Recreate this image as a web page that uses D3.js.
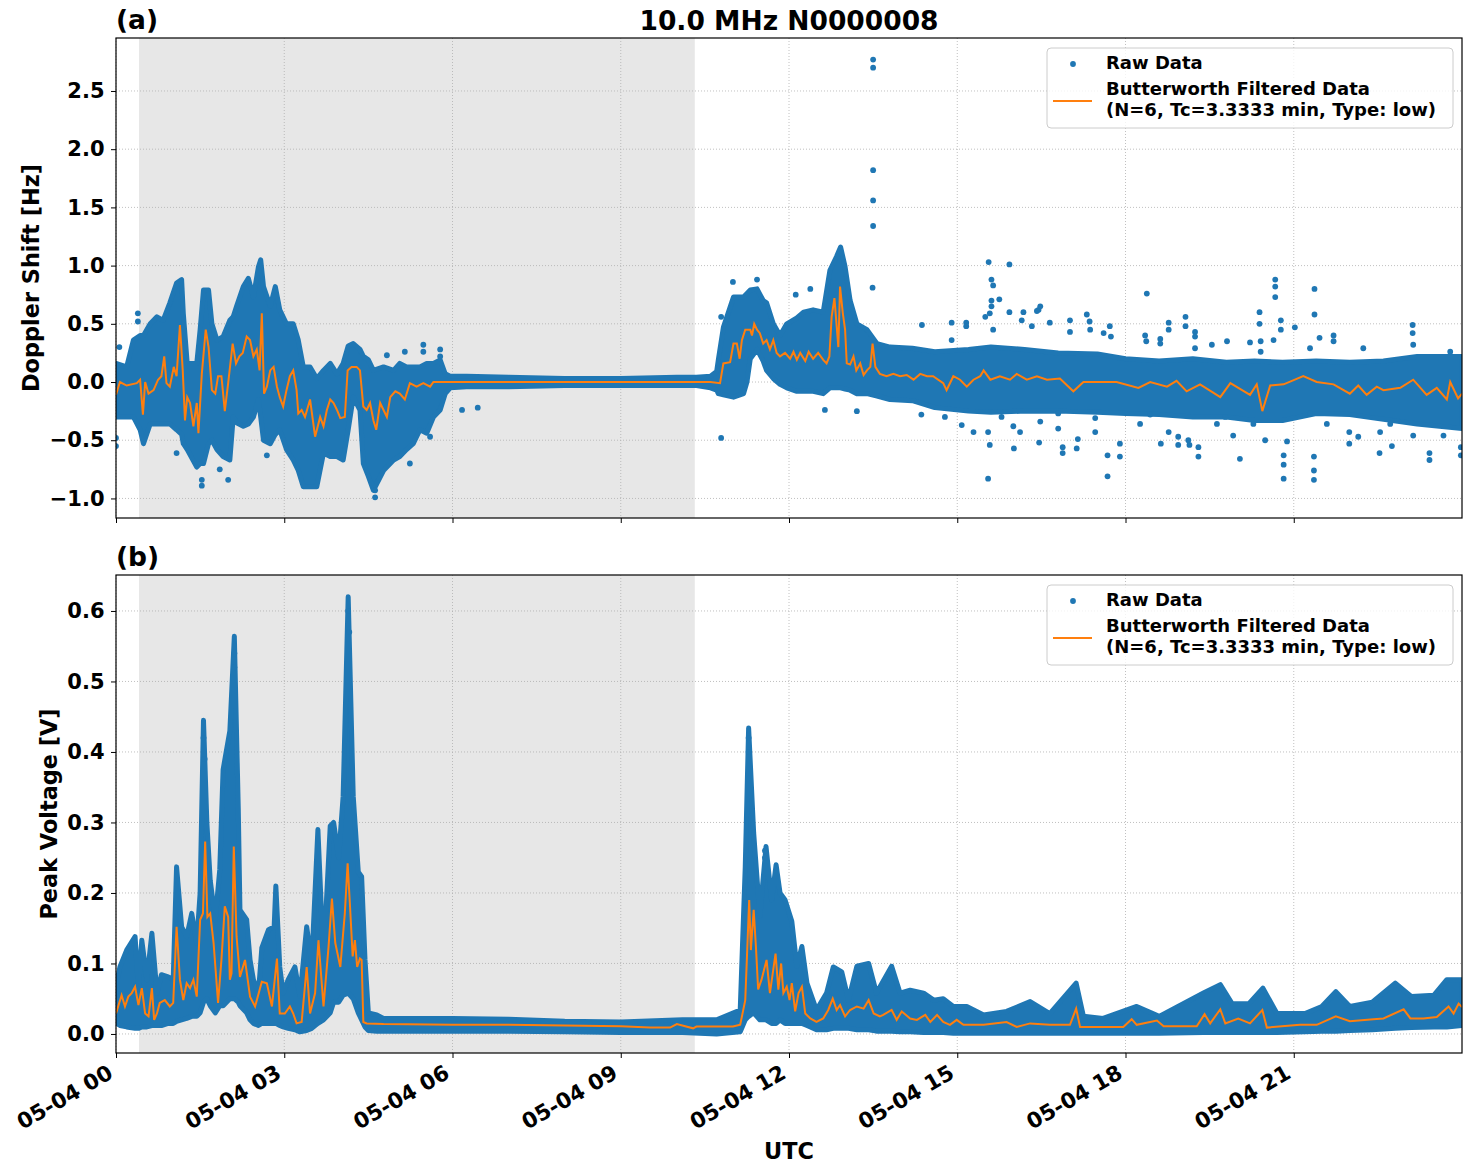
<!DOCTYPE html>
<html>
<head>
  <title>10.0 MHz N0000008</title>
  <script src="https://cdn.jsdelivr.net/npm/d3@7"></script>
  <style>
    body { margin: 0; background: #fff; }
    text { font-family: "DejaVu Sans", sans-serif; font-weight: bold; }
  </style>
</head>
<body>
<script>
  // Tid i timer efter 05-04 00 UTC
  const hourTicks = [0, 3, 6, 9, 12, 15, 18, 21];
  const hourLabels = ["05-04 00", "05-04 03", "05-04 06", "05-04 09", "05-04 12", "05-04 15", "05-04 18", "05-04 21"];
  const nightStart = 0.41;
  const nightEnd = 10.32;

  // (a) Doppler - rå data som øvre/nedre kant af punktskyen
  const dopEnvTime = [0.0, 0.19, 0.31, 0.43, 0.49, 0.61, 0.73, 0.84, 0.96, 1.08, 1.17, 1.20, 1.27, 1.44, 1.50, 1.56, 1.65, 1.71, 1.80, 1.91,
    2.03, 2.09, 2.15, 2.27, 2.36, 2.45, 2.54, 2.58, 2.63, 2.75, 2.84, 2.92, 3.04, 3.16, 3.25, 3.34, 3.46, 3.58, 3.70, 3.82,
    3.94, 4.05, 4.14, 4.23, 4.35, 4.41, 4.50, 4.59, 4.77, 4.95, 5.06, 5.18, 5.30, 5.42, 5.54, 5.66, 5.78, 5.87, 5.96, 6.25,
    7.0, 8.0, 9.0, 10.0, 10.35, 10.6, 10.71, 10.74, 10.83, 11.01, 11.19, 11.25, 11.31, 11.43, 11.54, 11.60, 11.72, 11.84, 11.96, 12.14,
    12.26, 12.43, 12.61, 12.73, 12.85, 12.92, 13.00, 13.09, 13.21, 13.39, 13.57, 13.8, 14.2, 14.6, 15.2, 15.6, 16.2, 16.8, 17.5, 18.0,
    18.6, 19.2, 19.8, 20.3, 20.8, 21.4, 22.0, 22.6, 23.2, 23.6, 24.0];
  const dopEnvHigh = [0.16, 0.13, 0.36, 0.40, 0.40, 0.50, 0.56, 0.53, 0.68, 0.85, 0.88, 0.59, 0.16, 0.16, 0.45, 0.79, 0.79, 0.50, 0.36, 0.39,
    0.53, 0.56, 0.65, 0.82, 0.89, 0.73, 0.99, 1.05, 0.82, 0.65, 0.82, 0.62, 0.50, 0.50, 0.36, 0.13, 0.13, 0.03, 0.10, 0.16,
    0.07, 0.16, 0.31, 0.33, 0.28, 0.22, 0.19, 0.10, 0.13, 0.10, 0.16, 0.13, 0.13, 0.13, 0.16, 0.16, 0.19, 0.07, 0.05, 0.05,
    0.04, 0.03, 0.03, 0.04, 0.04, 0.05, 0.09, 0.19, 0.47, 0.73, 0.73, 0.76, 0.79, 0.80, 0.70, 0.68, 0.50, 0.40, 0.50, 0.55,
    0.60, 0.62, 0.60, 0.96, 1.08, 1.16, 0.99, 0.70, 0.50, 0.45, 0.33, 0.30, 0.29, 0.26, 0.28, 0.30, 0.28, 0.25, 0.24, 0.20,
    0.18, 0.20, 0.17, 0.18, 0.17, 0.18, 0.17, 0.18, 0.22, 0.22, 0.22];
  const dopEnvLow = [-0.30, -0.30, -0.30, -0.41, -0.53, -0.36, -0.36, -0.36, -0.36, -0.41, -0.45, -0.53, -0.58, -0.73, -0.70, -0.70, -0.53, -0.50, -0.58, -0.64,
    -0.67, -0.30, -0.35, -0.38, -0.36, -0.30, -0.15, -0.30, -0.50, -0.53, -0.45, -0.41, -0.58, -0.67, -0.76, -0.90, -0.90, -0.90, -0.61, -0.64,
    -0.64, -0.67, -0.41, -0.13, -0.24, -0.70, -0.81, -0.93, -0.76, -0.67, -0.64, -0.58, -0.53, -0.41, -0.44, -0.30, -0.24, -0.10, -0.05, -0.04,
    -0.04, -0.03, -0.03, -0.03, -0.03, -0.05, -0.07, -0.10, -0.11, -0.13, -0.10, 0.00, 0.20, 0.28, 0.18, 0.10, 0.03, -0.02, -0.05, -0.08,
    -0.08, -0.08, -0.10, -0.05, -0.05, -0.05, -0.06, -0.07, -0.10, -0.10, -0.12, -0.15, -0.16, -0.22, -0.25, -0.26, -0.25, -0.25, -0.26, -0.27,
    -0.28, -0.30, -0.30, -0.33, -0.33, -0.27, -0.28, -0.32, -0.36, -0.38, -0.40];
  // (a) enkeltpunkter uden for den tætte sky: [time, Hz]
  const dopOutliers = [
    [0.06, 0.30], [0.39, 0.59], [0.39, 0.52], [1.08, -0.61], [1.53, -0.84], [1.53, -0.89], [1.85, -0.75], [2.0, -0.84], [2.69, -0.63],
    [4.62, -0.99], [4.62, -0.93], [4.83, 0.23], [5.15, 0.26], [5.48, 0.32], [5.48, 0.26], [5.78, 0.28], [5.78, 0.22], [6.17, -0.24],
    [6.45, -0.22], [5.24, -0.70], [5.6, -0.47], [0.0, -0.55], [0.0, -0.48], [10.79, 0.56], [10.79, -0.48], [11.0, 0.86], [11.43, 0.88],
    [12.12, 0.75], [12.38, 0.80], [13.50, 2.77], [13.50, 2.70], [13.50, 1.82], [13.50, 1.56], [13.50, 1.34], [13.49, 0.81], [14.37, 0.49],
    [12.64, -0.24], [13.21, -0.25], [14.36, -0.28], [15.56, 1.03], [15.93, 1.01],
    [14.90, 0.51], [15.16, 0.51], [15.16, 0.48], [14.90, 0.36], [15.50, 0.56], [15.61, 0.88], [15.64, 0.83], [15.61, 0.70], [15.61, 0.65],
    [15.58, 0.59], [15.64, 0.45], [15.75, 0.71], [15.93, 0.60], [16.18, 0.60], [16.15, 0.53], [16.45, 0.62], [16.48, 0.65], [16.42, 0.61],
    [16.65, 0.51], [16.33, 0.48], [17.01, 0.53], [17.01, 0.43], [17.31, 0.58], [17.36, 0.52], [17.37, 0.45], [17.61, 0.42], [17.72, 0.48],
    [17.74, 0.39], [18.38, 0.76], [18.35, 0.40], [18.37, 0.35], [18.62, 0.37], [18.62, 0.33], [18.77, 0.51], [18.77, 0.45], [19.07, 0.56],
    [19.07, 0.48], [19.24, 0.43], [19.24, 0.39], [19.24, 0.29], [19.54, 0.32], [19.81, 0.35], [20.22, 0.34], [20.39, 0.60], [20.39, 0.50],
    [20.41, 0.35], [20.41, 0.26], [20.67, 0.88], [20.67, 0.82], [20.67, 0.73], [20.77, 0.53], [20.77, 0.45], [21.02, 0.47], [21.37, 0.80],
    [21.37, 0.58], [21.46, 0.38], [21.71, 0.40], [21.71, 0.35], [22.24, 0.29], [23.12, 0.49], [23.12, 0.42], [23.13, 0.32], [23.79, 0.26],
    [20.64, 0.36], [21.29, 0.29],
    [14.78, -0.30], [15.08, -0.37], [15.29, -0.43], [15.55, -0.43], [15.58, -0.54], [15.55, -0.83], [15.79, -0.30], [16.00, -0.38],
    [16.01, -0.57], [16.12, -0.43], [16.46, -0.52], [16.48, -0.34], [16.80, -0.40], [16.80, -0.27], [16.88, -0.56], [16.88, -0.61],
    [17.13, -0.57], [17.15, -0.49], [17.46, -0.43], [17.46, -0.31], [17.68, -0.63], [17.68, -0.81], [17.90, -0.53], [17.90, -0.64],
    [18.26, -0.36], [18.44, -0.28], [18.63, -0.53], [18.77, -0.43], [18.94, -0.47], [18.94, -0.54], [19.12, -0.50], [19.14, -0.54],
    [19.30, -0.56], [19.30, -0.64], [19.63, -0.36], [19.78, -0.30], [19.92, -0.46], [20.04, -0.66], [20.28, -0.36], [20.49, -0.50],
    [20.82, -0.63], [20.82, -0.71], [20.82, -0.83], [20.88, -0.51], [21.36, -0.64], [21.36, -0.76], [21.36, -0.84], [21.29, -0.27],
    [21.59, -0.36], [21.99, -0.43], [21.99, -0.53], [22.15, -0.47], [22.54, -0.43], [22.53, -0.61], [22.75, -0.55], [23.13, -0.46],
    [23.42, -0.61], [23.42, -0.67], [23.98, -0.56], [23.98, -0.63], [23.67, -0.46], [22.72, -0.36]];
  // (a) Butterworth-filtreret
  const dopFiltTime = [0.0, 0.07, 0.19, 0.37, 0.43, 0.48, 0.52, 0.58, 0.67, 0.75, 0.81, 0.86, 0.90, 0.96, 1.03, 1.08, 1.14, 1.19, 1.23, 1.27,
    1.32, 1.38, 1.44, 1.47, 1.53, 1.60, 1.65, 1.71, 1.77, 1.82, 1.88, 1.94, 2.00, 2.08, 2.14, 2.20, 2.26, 2.33, 2.39, 2.45,
    2.51, 2.56, 2.60, 2.64, 2.69, 2.75, 2.81, 2.87, 2.92, 2.98, 3.04, 3.10, 3.16, 3.22, 3.25, 3.31, 3.37, 3.46, 3.55, 3.64,
    3.70, 3.76, 3.82, 3.88, 3.94, 4.00, 4.08, 4.13, 4.20, 4.29, 4.35, 4.41, 4.47, 4.53, 4.59, 4.64, 4.71, 4.77, 4.83, 4.89,
    4.98, 5.06, 5.15, 5.24, 5.36, 5.48, 5.60, 5.66, 5.96, 10.6, 10.77, 10.83, 10.95, 11.01, 11.07, 11.12, 11.16, 11.22, 11.31, 11.34,
    11.38, 11.43, 11.48, 11.54, 11.60, 11.66, 11.72, 11.78, 11.84, 11.93, 12.02, 12.08, 12.14, 12.20, 12.29, 12.35, 12.43, 12.52, 12.61, 12.67,
    12.72, 12.76, 12.81, 12.85, 12.88, 12.91, 12.96, 13.00, 13.03, 13.09, 13.15, 13.20, 13.27, 13.33, 13.39, 13.45, 13.49, 13.54, 13.62, 13.74,
    13.86, 13.98, 14.10, 14.22, 14.34, 14.46, 14.57, 14.75, 14.81, 14.93, 15.05, 15.17, 15.29, 15.41, 15.47, 15.59, 15.76, 15.94, 16.06, 16.24,
    16.42, 16.60, 16.83, 17.07, 17.25, 17.84, 18.23, 18.44, 18.74, 18.91, 19.09, 19.33, 19.69, 19.87, 20.22, 20.34, 20.44, 20.58, 20.82, 21.17,
    21.41, 21.71, 22.0, 22.15, 22.30, 22.48, 22.6, 22.9, 23.13, 23.37, 23.55, 23.73, 23.79, 23.93, 24.0];
  const dopFiltValue = [-0.11, 0.0, -0.03, -0.01, 0.02, -0.28, 0.0, -0.10, -0.07, 0.02, 0.05, 0.22, -0.01, -0.04, 0.13, 0.05, 0.49, 0.10, -0.33, -0.13,
    -0.18, -0.38, -0.18, -0.44, 0.07, 0.45, 0.30, -0.07, -0.10, 0.05, 0.05, -0.25, -0.01, 0.33, 0.16, 0.22, 0.25, 0.39, 0.36, 0.22,
    0.28, 0.10, 0.59, -0.10, -0.04, 0.10, 0.13, -0.04, -0.13, -0.21, -0.07, 0.05, 0.10, -0.07, -0.27, -0.24, -0.30, -0.15, -0.47, -0.30,
    -0.38, -0.24, -0.15, -0.18, -0.24, -0.31, -0.30, 0.10, 0.13, 0.13, 0.10, -0.21, -0.24, -0.18, -0.33, -0.41, -0.18, -0.24, -0.30, -0.13,
    -0.08, -0.10, -0.15, -0.01, -0.04, -0.01, -0.04, 0.0, 0.0, 0.0, -0.01, 0.16, 0.17, 0.33, 0.33, 0.20, 0.36, 0.45, 0.45, 0.40,
    0.50, 0.45, 0.42, 0.33, 0.36, 0.28, 0.36, 0.25, 0.22, 0.25, 0.20, 0.26, 0.19, 0.25, 0.18, 0.26, 0.20, 0.25, 0.19, 0.16,
    0.22, 0.56, 0.72, 0.48, 0.30, 0.82, 0.59, 0.45, 0.16, 0.15, 0.22, 0.10, 0.16, 0.06, 0.10, 0.13, 0.33, 0.13, 0.07, 0.05,
    0.07, 0.05, 0.06, 0.02, 0.07, 0.05, 0.05, -0.01, -0.07, 0.05, 0.02, -0.04, 0.02, 0.05, 0.10, 0.02, 0.05, 0.02, 0.07, 0.02,
    0.05, 0.02, 0.03, -0.08, 0.0, 0.0, -0.05, 0.0, -0.04, 0.01, -0.08, -0.02, -0.13, -0.01, -0.11, -0.02, -0.25, -0.03, -0.02, 0.05,
    0.0, -0.02, -0.10, -0.03, -0.11, -0.04, -0.07, -0.05, 0.02, -0.11, -0.05, -0.15, 0.0, -0.14, -0.10];

  // (b) Peak voltage - rå data som øvre/nedre kant
  const volEnvTime = [0.01, 0.07, 0.19, 0.34, 0.40, 0.46, 0.55, 0.64, 0.73, 0.81, 0.93, 1.02, 1.08, 1.17, 1.26, 1.35, 1.44, 1.50, 1.56, 1.62,
    1.68, 1.77, 1.85, 1.91, 2.03, 2.11, 2.18, 2.21, 2.33, 2.39, 2.45, 2.54, 2.60, 2.72, 2.82, 2.85, 2.92, 2.98, 3.07, 3.19,
    3.28, 3.40, 3.49, 3.60, 3.70, 3.82, 3.88, 3.97, 4.05, 4.14, 4.23, 4.32, 4.38, 4.44, 4.50, 4.65, 4.77,
    6.0, 7.0, 8.0, 9.0, 10.1, 10.71, 11.13, 11.22, 11.28, 11.37, 11.48, 11.59, 11.69, 11.77, 11.84, 11.93, 12.05, 12.14, 12.23, 12.32,
    12.49, 12.67, 12.79, 12.94, 13.06, 13.21, 13.42, 13.56, 13.83, 13.98, 14.16, 14.40, 14.58, 14.75, 14.93, 15.17, 15.47, 15.88, 16.30, 16.65,
    17.12, 17.25, 17.6, 18.2, 18.6, 19.39, 19.69, 19.9, 20.2, 20.45, 20.7, 21.2, 21.5, 21.75, 22.0, 22.4, 22.81, 23.1, 23.5, 23.73, 24.0];
  const volEnvHigh = [0.072, 0.095, 0.119, 0.138, 0.067, 0.133, 0.077, 0.143, 0.058, 0.084, 0.081, 0.077, 0.237, 0.152, 0.138, 0.171, 0.129, 0.20, 0.445, 0.30,
    0.218, 0.162, 0.233, 0.375, 0.43, 0.564, 0.32, 0.176, 0.162, 0.105, 0.077, 0.058, 0.122, 0.148, 0.152, 0.21, 0.095, 0.058, 0.077, 0.095,
    0.053, 0.152, 0.10, 0.29, 0.105, 0.295, 0.30, 0.25, 0.337, 0.62, 0.337, 0.23, 0.223, 0.105, 0.03, 0.027, 0.022,
    0.022, 0.021, 0.018, 0.017, 0.02, 0.02, 0.034, 0.237, 0.434, 0.285, 0.167, 0.266, 0.19, 0.24, 0.20, 0.19, 0.16, 0.096, 0.124, 0.072,
    0.034, 0.058, 0.095, 0.088, 0.048, 0.096, 0.10, 0.058, 0.096, 0.058, 0.062, 0.058, 0.048, 0.05, 0.039, 0.039, 0.027, 0.032, 0.046, 0.029,
    0.072, 0.025, 0.022, 0.039, 0.025, 0.058, 0.07, 0.043, 0.043, 0.065, 0.029, 0.029, 0.039, 0.06, 0.039, 0.045, 0.072, 0.053, 0.055, 0.077, 0.077];
  const volEnvLow = [0.015, 0.012, 0.010, 0.008, 0.008, 0.010, 0.010, 0.012, 0.012, 0.012, 0.015, 0.015, 0.018, 0.020, 0.022, 0.025, 0.025, 0.03, 0.045, 0.05,
    0.04, 0.03, 0.04, 0.04, 0.05, 0.05, 0.045, 0.04, 0.03, 0.02, 0.015, 0.012, 0.015, 0.015, 0.015, 0.015, 0.012, 0.01, 0.008, 0.006,
    0.003, 0.005, 0.008, 0.015, 0.02, 0.03, 0.045, 0.045, 0.055, 0.058, 0.05, 0.03, 0.02, 0.01, 0.005, 0.004, 0.004,
    0.004, 0.004, 0.003, 0.002, 0.002, 0.0, 0.003, 0.02, 0.025, 0.03, 0.02, 0.02, 0.015, 0.015, 0.02, 0.015, 0.015, 0.015, 0.015, 0.012,
    0.006, 0.006, 0.008, 0.008, 0.008, 0.006, 0.006, 0.004, 0.004, 0.003, 0.003, 0.002, 0.002, 0.002, 0.001, 0.001, 0.001, 0.001, 0.001, 0.001,
    0.001, 0.001, 0.001, 0.001, 0.001, 0.002, 0.002, 0.002, 0.002, 0.002, 0.002, 0.003, 0.004, 0.004, 0.005, 0.006, 0.008, 0.009, 0.010, 0.010, 0.012];
  const volOutliers = [[1.56, 0.42], [1.58, 0.39], [2.11, 0.54], [2.11, 0.52], [4.14, 0.60], [4.16, 0.57],
    [11.28, 0.42], [11.28, 0.40], [11.57, 0.26], [11.57, 0.25]];
  // (b) Butterworth-filtreret
  const volFiltTime = [0.0, 0.10, 0.16, 0.22, 0.28, 0.34, 0.40, 0.46, 0.52, 0.58, 0.64, 0.68, 0.73, 0.78, 0.87, 0.96, 1.02, 1.08, 1.14, 1.20,
    1.26, 1.32, 1.38, 1.44, 1.50, 1.55, 1.59, 1.63, 1.68, 1.74, 1.82, 1.88, 1.94, 2.00, 2.03, 2.06, 2.10, 2.15, 2.21, 2.30,
    2.39, 2.48, 2.60, 2.69, 2.78, 2.87, 2.92, 3.01, 3.10, 3.16, 3.22, 3.31, 3.40, 3.46, 3.55, 3.61, 3.70, 3.79, 3.85, 3.91,
    4.00, 4.08, 4.13, 4.17, 4.22, 4.26, 4.30, 4.35, 4.38, 4.41, 4.47, 4.77, 6.0, 7.0, 8.0, 9.0, 9.52, 9.88, 10.0, 10.29,
    10.35, 11.0, 11.13, 11.22, 11.29, 11.32, 11.37, 11.41, 11.45, 11.51, 11.60, 11.66, 11.76, 11.81, 11.86, 11.90, 11.96, 12.01, 12.05, 12.11,
    12.17, 12.23, 12.29, 12.38, 12.49, 12.61, 12.70, 12.78, 12.85, 12.91, 13.0, 13.09, 13.21, 13.33, 13.42, 13.51, 13.62, 13.68, 13.83, 13.92,
    14.01, 14.16, 14.28, 14.43, 14.52, 14.64, 14.75, 14.87, 14.99, 15.11, 15.47, 15.88, 16.06, 16.30, 16.65, 17.01, 17.12, 17.19, 17.96, 18.11,
    18.2, 18.56, 18.68, 19.27, 19.41, 19.51, 19.69, 19.78, 20.01, 20.22, 20.44, 20.52, 21.11, 21.41, 21.75, 22.0, 22.42, 22.6, 22.96, 23.08,
    23.31, 23.55, 23.76, 23.85, 23.94, 24.0];
  const volFiltValue = [0.029, 0.055, 0.039, 0.053, 0.058, 0.067, 0.041, 0.065, 0.029, 0.025, 0.065, 0.02, 0.029, 0.044, 0.048, 0.039, 0.044, 0.152, 0.077, 0.048,
    0.072, 0.065, 0.077, 0.053, 0.162, 0.171, 0.273, 0.166, 0.171, 0.129, 0.044, 0.105, 0.181, 0.166, 0.077, 0.086, 0.266, 0.138, 0.081, 0.105,
    0.053, 0.039, 0.074, 0.072, 0.039, 0.107, 0.029, 0.029, 0.039, 0.029, 0.015, 0.017, 0.095, 0.029, 0.058, 0.133, 0.039, 0.124, 0.192, 0.129,
    0.095, 0.171, 0.242, 0.185, 0.110, 0.133, 0.095, 0.107, 0.105, 0.017, 0.015, 0.014, 0.013, 0.013, 0.012, 0.011, 0.009, 0.009, 0.014, 0.008,
    0.0105, 0.0105, 0.013, 0.048, 0.19, 0.119, 0.176, 0.124, 0.063, 0.077, 0.105, 0.058, 0.114, 0.063, 0.10, 0.058, 0.067, 0.048, 0.072, 0.032,
    0.058, 0.067, 0.029, 0.022, 0.017, 0.022, 0.034, 0.05, 0.034, 0.041, 0.025, 0.034, 0.039, 0.036, 0.048, 0.029, 0.025, 0.027, 0.034, 0.02,
    0.032, 0.022, 0.02, 0.027, 0.017, 0.027, 0.017, 0.013, 0.02, 0.013, 0.013, 0.017, 0.01, 0.015, 0.013, 0.013, 0.036, 0.01, 0.01, 0.021,
    0.013, 0.019, 0.011, 0.011, 0.028, 0.015, 0.035, 0.015, 0.022, 0.015, 0.034, 0.009, 0.013, 0.013, 0.025, 0.018, 0.021, 0.022, 0.035, 0.022,
    0.022, 0.024, 0.039, 0.029, 0.043, 0.038];

  const blue = "#1f77b4";
  const orange = "#ff7f0e";
  const W = 1472, H = 1172;
  const left = 116, right = 1462;

  const svg = d3.select("body").append("svg")
    .attr("width", W)
    .attr("height", H);

  const x = d3.scaleLinear().domain([0, 24]).range([left, right]);

  function zip(a, b) {
    return a.map(function (d, i) { return [d, b[i]]; });
  }

  function drawPanel(p) {
    const y = d3.scaleLinear().domain(p.domain).range([p.bottom, p.top]);
    const g = svg.append("g");

    g.append("clipPath").attr("id", p.id + "clip")
      .append("rect")
      .attr("x", left).attr("y", p.top)
      .attr("width", right - left).attr("height", p.bottom - p.top);

    // Grå nat-område
    g.append("rect")
      .attr("x", x(nightStart)).attr("y", p.top)
      .attr("width", x(nightEnd) - x(nightStart))
      .attr("height", p.bottom - p.top)
      .attr("fill", "#e7e7e7");

    // Gitter
    g.selectAll(".gx").data(hourTicks).enter().append("line")
      .attr("x1", function (d) { return x(d); }).attr("x2", function (d) { return x(d); })
      .attr("y1", p.top).attr("y2", p.bottom)
      .attr("stroke", "#b0b0b0").attr("stroke-width", 0.8).attr("stroke-dasharray", "1,2");
    g.selectAll(".gy").data(p.ticks).enter().append("line")
      .attr("x1", left).attr("x2", right)
      .attr("y1", function (d) { return y(d); }).attr("y2", function (d) { return y(d); })
      .attr("stroke", "#b0b0b0").attr("stroke-width", 0.8).attr("stroke-dasharray", "1,2");

    const plot = g.append("g").attr("clip-path", "url(#" + p.id + "clip)");

    // Rå data: punktskyens kant
    const env = p.envTime.map(function (t, i) { return { t: t, lo: p.envLow[i], hi: p.envHigh[i] }; });
    const area = d3.area()
      .x(function (d) { return x(d.t); })
      .y0(function (d) { return y(d.lo); })
      .y1(function (d) { return y(d.hi); });
    plot.append("path")
      .datum(env)
      .attr("d", area)
      .attr("fill", blue)
      .attr("stroke", blue)
      .attr("stroke-width", 5)
      .attr("stroke-linejoin", "round");

    plot.selectAll(".pt").data(p.outliers).enter().append("circle")
      .attr("cx", function (d) { return x(d[0]); })
      .attr("cy", function (d) { return y(d[1]); })
      .attr("r", 2.9)
      .attr("fill", blue);

    // Filtreret linje
    const line = d3.line()
      .x(function (d) { return x(d[0]); })
      .y(function (d) { return y(d[1]); });
    plot.append("path")
      .datum(zip(p.filtTime, p.filtValue))
      .attr("d", line)
      .attr("fill", "none")
      .attr("stroke", orange)
      .attr("stroke-width", 2);

    // Akser
    const yAxis = d3.axisLeft(y).tickValues(p.ticks).tickSize(5).tickPadding(6.5)
      .tickFormat(function (d) { return d3.format(".1f")(d).replace("-", "\u2212"); });
    const ya = g.append("g").attr("transform", "translate(" + left + ",0)").call(yAxis);
    ya.select(".domain").remove();
    ya.selectAll("line").attr("stroke-width", 1);
    ya.selectAll("text").attr("font-size", 21).attr("font-family", "DejaVu Sans").attr("font-weight", "bold").attr("fill", "#000");

    const xAxis = d3.axisBottom(x).tickValues(hourTicks).tickSize(5)
      .tickFormat(function (d, i) { return p.labels ? hourLabels[i] : ""; });
    const xa = g.append("g").attr("transform", "translate(0," + p.bottom + ")").call(xAxis);
    xa.select(".domain").remove();
    xa.selectAll("text")
      .attr("font-size", 21.5).attr("font-family", "DejaVu Sans").attr("font-weight", "bold").attr("fill", "#000")
      .attr("text-anchor", "end")
      .attr("x", 0).attr("y", 0).attr("dy", 0)
      .attr("transform", "translate(-2,24) rotate(-30)");

    g.append("rect")
      .attr("x", left).attr("y", p.top)
      .attr("width", right - left).attr("height", p.bottom - p.top)
      .attr("fill", "none").attr("stroke", "#000").attr("stroke-width", 1.2);

    g.append("text")
      .attr("x", left).attr("y", p.top - 9)
      .attr("font-size", 26.5)
      .text(p.letter);

    g.append("text")
      .attr("transform", "translate(" + p.ylabelX + "," + ((p.top + p.bottom) / 2) + ") rotate(-90)")
      .attr("text-anchor", "middle")
      .attr("font-size", 22.4)
      .text(p.ylabel);

    // Forklaring
    const lg = g.append("g").attr("transform", "translate(1047," + (p.top + 10) + ")");
    lg.append("rect")
      .attr("width", 406).attr("height", 80).attr("rx", 4)
      .attr("fill", "#fff").attr("fill-opacity", 0.8)
      .attr("stroke", "#cccccc").attr("stroke-width", 1);
    lg.append("circle").attr("cx", 26).attr("cy", 16).attr("r", 2.9).attr("fill", blue);
    lg.append("text").attr("x", 59).attr("y", 21).attr("font-size", 18).text("Raw Data");
    lg.append("line").attr("x1", 6).attr("x2", 45).attr("y1", 53).attr("y2", 53)
      .attr("stroke", orange).attr("stroke-width", 2);
    lg.append("text").attr("x", 59).attr("y", 47).attr("font-size", 18).text("Butterworth Filtered Data");
    lg.append("text").attr("x", 59).attr("y", 68).attr("font-size", 18).text("(N=6, Tc=3.3333 min, Type: low)");
  }

  drawPanel({
    id: "a", letter: "(a)", top: 38, bottom: 518, domain: [-1.168, 2.955],
    ticks: [-1.0, -0.5, 0.0, 0.5, 1.0, 1.5, 2.0, 2.5], ylabel: "Doppler Shift [Hz]", ylabelX: 39,
    envTime: dopEnvTime, envHigh: dopEnvHigh, envLow: dopEnvLow,
    outliers: dopOutliers,
    filtTime: dopFiltTime, filtValue: dopFiltValue, labels: false
  });

  drawPanel({
    id: "b", letter: "(b)", top: 575, bottom: 1053, domain: [-0.027, 0.651],
    ticks: [0.0, 0.1, 0.2, 0.3, 0.4, 0.5, 0.6], ylabel: "Peak Voltage [V]", ylabelX: 57,
    envTime: volEnvTime, envHigh: volEnvHigh, envLow: volEnvLow,
    outliers: volOutliers,
    filtTime: volFiltTime, filtValue: volFiltValue, labels: true
  });

  svg.append("text")
    .attr("x", (left + right) / 2).attr("y", 30)
    .attr("text-anchor", "middle")
    .attr("font-size", 26.5)
    .text("10.0 MHz N0000008");

  svg.append("text")
    .attr("x", (left + right) / 2).attr("y", 1159)
    .attr("text-anchor", "middle")
    .attr("font-size", 22.4)
    .text("UTC");
</script>
</body>
</html>
